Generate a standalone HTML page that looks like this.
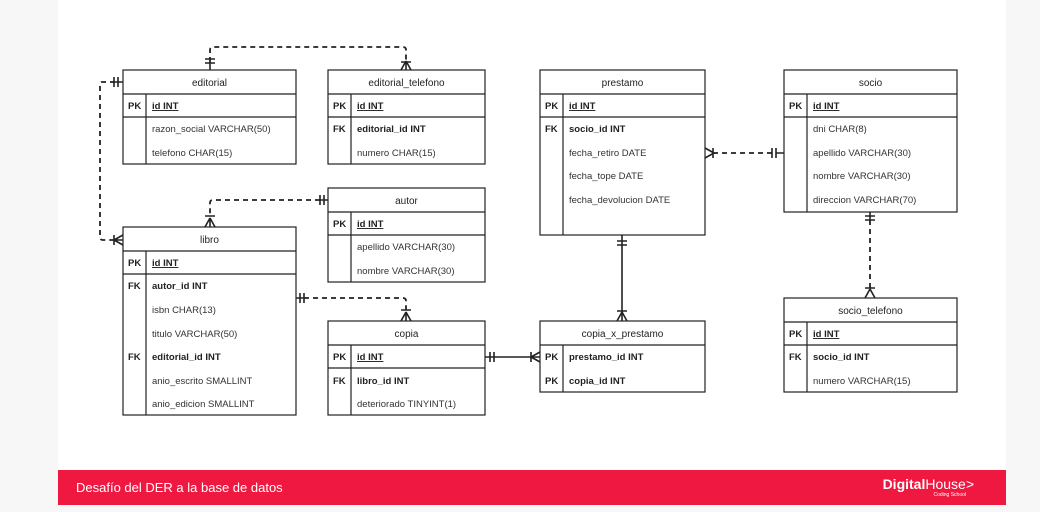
<!DOCTYPE html>
<html><head><meta charset="utf-8"><style>
html,body{margin:0;padding:0;background:#f7f7f7;}
body{width:1040px;height:512px;position:relative;overflow:hidden;font-family:"Liberation Sans",Arial,sans-serif;}
.card{position:absolute;left:58px;top:0;width:948px;height:470px;background:#fff;}
.bar{position:absolute;left:58px;top:470px;width:948px;height:35px;background:#ee1840;color:#fff;}
.bar .t{position:absolute;left:18px;top:10px;font-size:13px;}
.bar .l{position:absolute;right:32px;top:6px;font-size:14px;font-weight:bold;}
.bar .s{position:absolute;right:40px;top:22px;font-size:5px;}
svg{position:absolute;left:0;top:0;}
text{font-family:"Liberation Sans",Arial,sans-serif;font-size:9.5px;fill:#333;}
.h{font-size:10px;text-anchor:middle;fill:#222;}
.u{text-decoration:underline;font-weight:bold;fill:#222;}
.k{font-weight:bold;fill:#222;}
</style></head><body>
<div class="card"></div>
<div class="bar"><span class="t">Desafío del DER a la base de datos</span><span class="l">Digital<span style="font-weight:normal">House&gt;</span></span><span class="s">Coding School</span></div>
<svg width="1040" height="512" viewBox="0 0 1040 512">
<g fill="#fff" stroke="#222" stroke-width="1.2">
<rect x="123" y="70" width="173" height="94"/><line x1="123" y1="94" x2="296" y2="94"/><line x1="123" y1="117" x2="296" y2="117"/><line x1="146" y1="94" x2="146" y2="164"/>
<rect x="328" y="70" width="157" height="94"/><line x1="328" y1="94" x2="485" y2="94"/><line x1="328" y1="117" x2="485" y2="117"/><line x1="351" y1="94" x2="351" y2="164"/>
<rect x="328" y="188" width="157" height="94"/><line x1="328" y1="212" x2="485" y2="212"/><line x1="328" y1="235" x2="485" y2="235"/><line x1="351" y1="212" x2="351" y2="282"/>
<rect x="123" y="227" width="173" height="188"/><line x1="123" y1="251" x2="296" y2="251"/><line x1="123" y1="274" x2="296" y2="274"/><line x1="146" y1="251" x2="146" y2="415"/>
<rect x="328" y="321" width="157" height="94"/><line x1="328" y1="345" x2="485" y2="345"/><line x1="328" y1="368" x2="485" y2="368"/><line x1="351" y1="345" x2="351" y2="415"/>
<rect x="540" y="70" width="165" height="165"/><line x1="540" y1="94" x2="705" y2="94"/><line x1="540" y1="117" x2="705" y2="117"/><line x1="563" y1="94" x2="563" y2="235"/>
<rect x="540" y="321" width="165" height="71"/><line x1="540" y1="345" x2="705" y2="345"/><line x1="563" y1="345" x2="563" y2="392"/>
<rect x="784" y="70" width="173" height="142"/><line x1="784" y1="94" x2="957" y2="94"/><line x1="784" y1="117" x2="957" y2="117"/><line x1="807" y1="94" x2="807" y2="212"/>
<rect x="784" y="298" width="173" height="94"/><line x1="784" y1="322" x2="957" y2="322"/><line x1="784" y1="345" x2="957" y2="345"/><line x1="807" y1="322" x2="807" y2="392"/>
</g>
<g fill="none" stroke="#222" stroke-width="1.6">
<g stroke-dasharray="5,4" stroke-width="1.8">
<path d="M210 62 V50 Q210 47 213 47 H403 Q406 47 406 50 V60"/>
<path d="M115 82 H102 Q100 82 100 85 V237 Q100 240 103 240 H114"/>
<path d="M320 200 H213 Q210 200 210 203 V216"/>
<path d="M304 298 H403 Q406 298 406 301 V310"/>
<path d="M713 153 H776"/>
<path d="M870 220 V288"/>
</g>
<path d="M485 357 H540"/>
<path d="M622 235 V321"/>
<path d="M205 59 H215 M205 63 H215 M210 62 V70"/>
<path d="M114 77 V87 M118 77 V87 M115 82 H123"/>
<path d="M320 195 V205 M324 195 V205 M320 200 H328"/>
<path d="M300 293 V303 M304 293 V303 M296 298 H304"/>
<path d="M490 352 V362 M494 352 V362"/>
<path d="M617 241 H627 M617 245 H627"/>
<path d="M772 148 V158 M776 148 V158 M776 153 H784"/>
<path d="M865 216 H875 M865 220 H875 M870 212 V220"/>
<path d="M401 62 H411 M406 61 L401 70 M406 61 L411 70 M406 61 V70"/>
<path d="M205 216 H215 M210 218 L205 227 M210 218 L215 227 M210 218 V227"/>
<path d="M401 310 H411 M406 312 L401 321 M406 312 L411 321 M406 312 V321"/>
<path d="M617 311 H627 M622 312 L617 321 M622 312 L627 321"/>
<path d="M865 288 H875 M870 289 L865 298 M870 289 L875 298"/>
<path d="M114 235 V245 M114 240 L123 235 M114 240 L123 245 M114 240 H123"/>
<path d="M531 352 V362 M531 357 L540 352 M531 357 L540 362"/>
<path d="M713 148 V158 M714 153 L705 148 M714 153 L705 158"/>
</g>
<text class="h" x="209.5" y="86">editorial</text>
<text class="k" x="128" y="109">PK</text><text class="u" x="152" y="109">id INT</text>
<text x="152" y="132">razon_social VARCHAR(50)</text><text x="152" y="156">telefono CHAR(15)</text>

<text class="h" x="406.5" y="86">editorial_telefono</text>
<text class="k" x="333" y="109">PK</text><text class="u" x="357" y="109">id INT</text>
<text class="k" x="333" y="132">FK</text><text class="k" x="357" y="132">editorial_id INT</text><text x="357" y="156">numero CHAR(15)</text>

<text class="h" x="406.5" y="204">autor</text>
<text class="k" x="333" y="227">PK</text><text class="u" x="357" y="227">id INT</text>
<text x="357" y="250">apellido VARCHAR(30)</text><text x="357" y="274">nombre VARCHAR(30)</text>

<text class="h" x="209.5" y="243">libro</text>
<text class="k" x="128" y="266">PK</text><text class="u" x="152" y="266">id INT</text>
<text class="k" x="128" y="289">FK</text><text class="k" x="152" y="289">autor_id INT</text>
<text x="152" y="313">isbn CHAR(13)</text><text x="152" y="337">titulo VARCHAR(50)</text>
<text class="k" x="128" y="360">FK</text><text class="k" x="152" y="360">editorial_id INT</text>
<text x="152" y="384">anio_escrito SMALLINT</text><text x="152" y="407">anio_edicion SMALLINT</text>

<text class="h" x="406.5" y="337">copia</text>
<text class="k" x="333" y="360">PK</text><text class="u" x="357" y="360">id INT</text>
<text class="k" x="333" y="384">FK</text><text class="k" x="357" y="384">libro_id INT</text><text x="357" y="407">deteriorado TINYINT(1)</text>

<text class="h" x="622.5" y="86">prestamo</text>
<text class="k" x="545" y="109">PK</text><text class="u" x="569" y="109">id INT</text>
<text class="k" x="545" y="132">FK</text><text class="k" x="569" y="132">socio_id INT</text>
<text x="569" y="156">fecha_retiro DATE</text><text x="569" y="179">fecha_tope DATE</text><text x="569" y="203">fecha_devolucion DATE</text>

<text class="h" x="622.5" y="337">copia_x_prestamo</text>
<text class="k" x="545" y="360">PK</text><text class="k" x="569" y="360">prestamo_id INT</text>
<text class="k" x="545" y="384">PK</text><text class="k" x="569" y="384">copia_id INT</text>

<text class="h" x="870.5" y="86">socio</text>
<text class="k" x="789" y="109">PK</text><text class="u" x="813" y="109">id INT</text>
<text x="813" y="132">dni CHAR(8)</text><text x="813" y="156">apellido VARCHAR(30)</text><text x="813" y="179">nombre VARCHAR(30)</text><text x="813" y="203">direccion  VARCHAR(70)</text>

<text class="h" x="870.5" y="314">socio_telefono</text>
<text class="k" x="789" y="337">PK</text><text class="u" x="813" y="337">id INT</text>
<text class="k" x="789" y="360">FK</text><text class="k" x="813" y="360">socio_id INT</text><text x="813" y="384">numero VARCHAR(15)</text>
</svg>
</body></html>
